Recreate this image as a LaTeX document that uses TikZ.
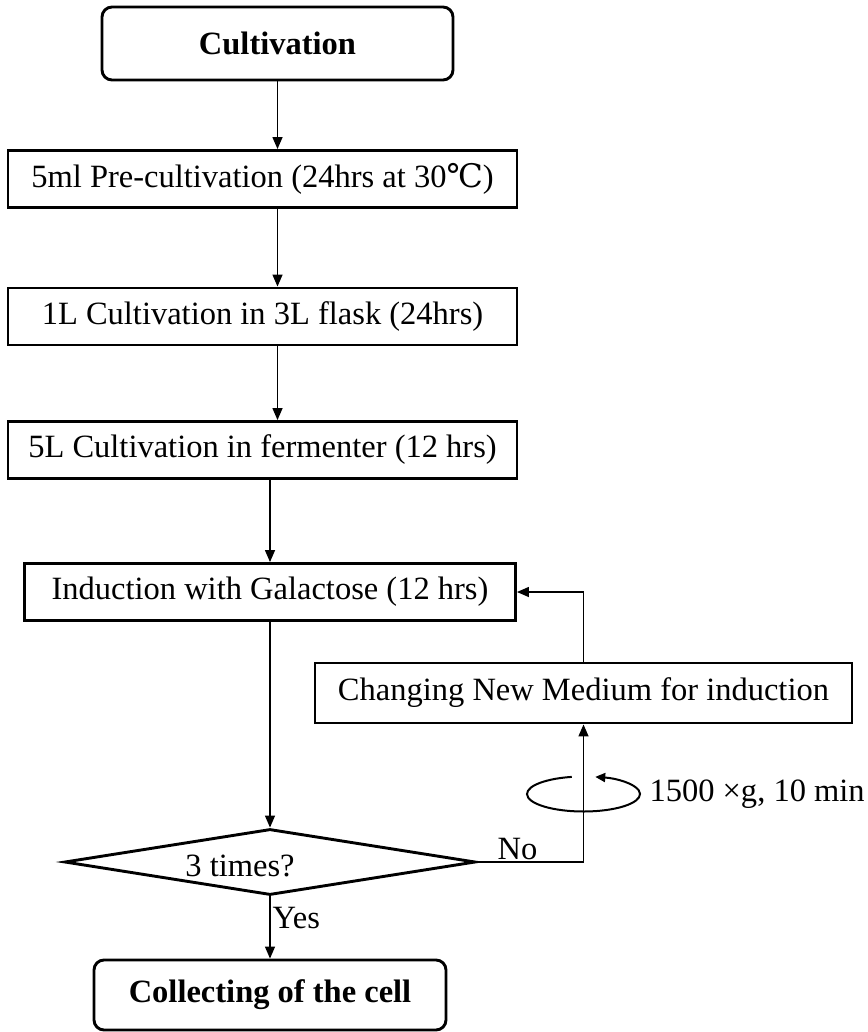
\documentclass[tikz,border=0pt]{standalone}
\usepackage{fontspec}
\setmainfont{Liberation Serif}
\newfontfamily\celsiusfont{DejaVu Serif}
\usetikzlibrary{shapes.geometric,arrows.meta}
\tikzstyle{flowchart}=[%
	x=1pt,
	y=-1pt,
	every node/.style={%
		font=\fontsize{32.5}{38}\selectfont
	},%
	stepBox/.style={%
		draw,
		line width=2.9pt,
		inner sep=0pt,
		minimum height=57pt
	},%
	endBox/.style={%
		stepBox,
		rounded corners=10pt,
		font=\fontsize{32.5}{38}\selectfont\bfseries
	},%
	testBox/.style={%
		diamond,
		draw,
		line width=2.9pt,
		inner sep=0pt
	},%
	link/.style={%
		line width=1.4pt,
		-{Triangle[length=12pt,width=10pt]}
	}
]

\begin{document}
\begin{tikzpicture}[flowchart]
	\useasboundingbox (0,0) rectangle (867,1032);

	\node[endBox, minimum width=351pt, minimum height=73pt] (cult) at (277.5,43.5) {Cultivation};
	\node[stepBox, minimum width=509pt] (pre) at (262.5,179) {5ml Pre-cultivation (24hrs at 30{\celsiusfont ℃})};
	\node[stepBox, minimum width=509pt] (flask) at (262.5,316.5) {1L Cultivation in 3L flask (24hrs)};
	\node[stepBox, minimum width=509pt] (ferm) at (262.5,450) {5L Cultivation in fermenter (12 hrs)};
	\node[stepBox, minimum width=491pt] (induc) at (270,592) {Induction with Galactose (12 hrs)};
	\node[stepBox, minimum width=537pt, minimum height=60pt] (change) at (583.5,693) {Changing New Medium for induction};
	\node[testBox, minimum width=411pt, minimum height=66pt] (check) at (270,862) {};
	\node (checkText) at (240,866) {3 times?};
	\node[endBox, minimum width=352pt, minimum height=70pt] (collect) at (270,995) {Collecting of the cell};

	\draw[link] (cult.south) -- (cult.south |- pre.north);
	\draw[link] (cult.south |- pre.south) -- (cult.south |- flask.north);
	\draw[link] (cult.south |- flask.south) -- (cult.south |- ferm.north);
	\draw[link] (induc.north |- ferm.south) -- (induc.north);
	\draw[link] (induc.south) -- (check.north);
	\draw[link] (check.south) -- (collect.north)
		node[pos=0.35, anchor=west, inner sep=2pt] (yes) {Yes};
	\draw[link] (check.east) -| (change.south)
		node[pos=0.19, above, inner sep=1pt] (no) {No};
	\draw[link] (change.north) |- (induc.east);

	\coordinate (spin) at (583.5,794);
	\draw[line width=2pt, -{Triangle[length=10pt,width=9pt]}]
		([shift={(102:56.5pt and 17.5pt)}]spin)
		arc[start angle=102, end angle=438, x radius=56.5pt, y radius=17.5pt];
	\node[anchor=west] (speed) at (646,794) {1500 ×g, 10 min};
\end{tikzpicture}
\end{document}
